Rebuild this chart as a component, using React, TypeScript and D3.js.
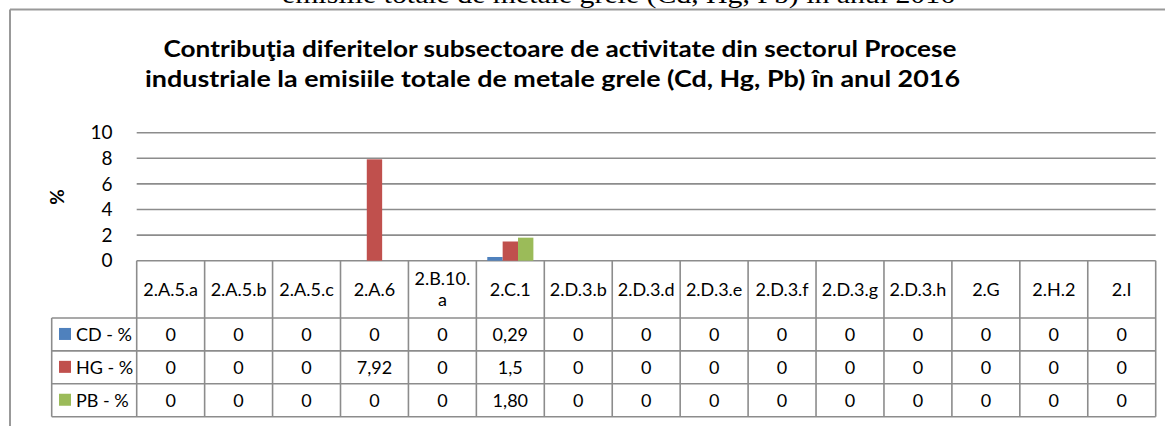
import React from "react";
import * as d3 from "d3";

// categorii (sub-sectoare)
const categories = [
  "2.A.5.a", "2.A.5.b", "2.A.5.c", "2.A.6", "2.B.10.a", "2.C.1", "2.D.3.b",
  "2.D.3.d", "2.D.3.e", "2.D.3.f", "2.D.3.g", "2.D.3.h", "2.G", "2.H.2", "2.I",
];
// etichetele din capul tabelului (cu rupere de rand ca in Excel)
const headerLines = [
  ["2.A.5.a"], ["2.A.5.b"], ["2.A.5.c"], ["2.A.6"], ["2.B.10.", "a"], ["2.C.1"],
  ["2.D.3.b"], ["2.D.3.d"], ["2.D.3.e"], ["2.D.3.f"], ["2.D.3.g"], ["2.D.3.h"],
  ["2.G"], ["2.H.2"], ["2.I"],
];

const seriesNames = ["CD - %", "HG - %", "PB - %"];
const seriesColors = ["#4F81BD", "#C0504D", "#9BBB59"];

const cdValues = [0, 0, 0, 0, 0, 0.29, 0, 0, 0, 0, 0, 0, 0, 0, 0];
const hgValues = [0, 0, 0, 7.92, 0, 1.5, 0, 0, 0, 0, 0, 0, 0, 0, 0];
const pbValues = [0, 0, 0, 0, 0, 1.8, 0, 0, 0, 0, 0, 0, 0, 0, 0];

const cdLabels = ["0", "0", "0", "0", "0", "0,29", "0", "0", "0", "0", "0", "0", "0", "0", "0"];
const hgLabels = ["0", "0", "0", "7,92", "0", "1,5", "0", "0", "0", "0", "0", "0", "0", "0", "0"];
const pbLabels = ["0", "0", "0", "0", "0", "1,80", "0", "0", "0", "0", "0", "0", "0", "0", "0"];

const yTicks = [0, 2, 4, 6, 8, 10];

const titleLines = [
  "Contribuţia diferitelor subsectoare de activitate din sectorul Procese",
  "industriale la emisiile totale de metale grele (Cd, Hg, Pb) în anul 2016",
];
const docLine = "emisiile totale de metale grele (Cd, Hg, Pb) în anul 2016";

const W = 1165;
const H = 426;
const FONT = "Lato, Carlito, 'Open Sans', sans-serif";
const GRID = "#8c8c8c";

export default function App() {
  const plot = { left: 136.7, right: 1155.7, top: 132.7, bottom: 260.7 };
  const legendLeft = 51.7;
  const headerBottom = 318;
  const rowH = 32.9;

  const x = d3.scaleBand<string>().domain(categories).range([plot.left, plot.right]).padding(0);
  const xSub = d3
    .scaleBand<string>()
    .domain(seriesNames)
    .range([0, x.bandwidth()])
    .paddingInner(0)
    .paddingOuter(0.71);
  const y = d3.scaleLinear().domain([0, 10]).range([plot.bottom, plot.top]);

  const seriesValues = [cdValues, hgValues, pbValues];
  const seriesLabels = [cdLabels, hgLabels, pbLabels];
  const tableBottom = headerBottom + rowH * seriesNames.length;

  return (
    <div style={{ position: "fixed", left: 0, top: 0, width: W, height: H, background: "#fff" }}>
      <svg width={W} height={H} style={{ display: "block" }}>
        {/* rand din documentul de deasupra, taiat */}
        <text
          x={282}
          y={2.5}
          fontFamily="'Liberation Serif', 'Times New Roman', serif"
          fontSize={26}
          textLength={673}
          lengthAdjust="spacingAndGlyphs"
          fill="#000"
        >
          {docLine}
        </text>

        {/* cadrul graficului */}
        <line x1={10} x2={W} y1={9.5} y2={9.5} stroke="#999" strokeWidth={2} />
        <line x1={10} x2={10} y1={9.5} y2={H} stroke="#999" strokeWidth={2} />

        {/* titlu */}
        <text x={163.5} y={57} fontFamily={FONT} fontWeight="bold" fontSize={23}
          textLength={793} lengthAdjust="spacingAndGlyphs">
          {titleLines[0]}
        </text>
        <text x={145} y={87} fontFamily={FONT} fontWeight="bold" fontSize={23}
          textLength={815} lengthAdjust="spacingAndGlyphs">
          {titleLines[1]}
        </text>

        {/* linii de grila */}
        {yTicks.map((t) => (
          <line key={`g${t}`} x1={plot.left} x2={plot.right} y1={y(t)} y2={y(t)}
            stroke={GRID} strokeWidth={1.6} />
        ))}
        {yTicks.map((t) => (
          <text key={`t${t}`} x={112.5} y={y(t)} dy="0.35em" textAnchor="end"
            fontFamily={FONT} fontSize={19} fill="#000">
            {t}
          </text>
        ))}
        <text transform={`translate(57,197) rotate(-90)`} textAnchor="middle" dy="0.35em"
          fontFamily={FONT} fontWeight="bold" fontSize={19}>
          %
        </text>

        {/* bare */}
        {seriesNames.map((s, si) =>
          categories.map((c, ci) => {
            const v = seriesValues[si][ci];
            if (!v) return null;
            return (
              <rect key={`${s}-${c}`} x={x(c)! + xSub(s)!} y={y(v)} width={xSub.bandwidth()}
                height={y(0) - y(v)} fill={seriesColors[si]} />
            );
          })
        )}

        {/* tabel de date */}
        {/* linii verticale */}
        {[...categories, "end"].map((c, i) => {
          const xx = i < categories.length ? x(c)! : plot.right;
          return (
            <line key={`v${i}`} x1={xx} x2={xx} y1={plot.bottom} y2={tableBottom}
              stroke={GRID} strokeWidth={1.6} />
          );
        })}
        <line x1={legendLeft} x2={legendLeft} y1={headerBottom} y2={tableBottom}
          stroke={GRID} strokeWidth={1.6} />
        {seriesNames.map((s, i) => (
          <line key={`h${s}`} x1={legendLeft} x2={plot.right}
            y1={headerBottom + rowH * i} y2={headerBottom + rowH * i}
            stroke={GRID} strokeWidth={1.6} />
        ))}
        <line x1={legendLeft} x2={plot.right} y1={tableBottom} y2={tableBottom}
          stroke={GRID} strokeWidth={1.6} />

        {/* capul tabelului */}
        {categories.map((c, i) => {
          const lines = headerLines[i];
          const cy = (plot.bottom + headerBottom) / 2;
          const lh = 21;
          return (
            <g key={`hd${c}`}>
              {lines.map((l, li) => (
                <text key={li} x={x(c)! + x.bandwidth() / 2}
                  y={cy + (li - (lines.length - 1) / 2) * lh} dy="0.35em"
                  textAnchor="middle" fontFamily={FONT} fontSize={18}>
                  {l}
                </text>
              ))}
            </g>
          );
        })}

        {/* randurile seriilor */}
        {seriesNames.map((s, si) => {
          const cy = headerBottom + rowH * si + rowH / 2;
          return (
            <g key={`row${s}`}>
              <rect x={59} y={cy - 6.5} width={12} height={12} fill={seriesColors[si]} />
              <text x={76} y={cy} dy="0.35em" fontFamily={FONT} fontSize={18}>
                {s}
              </text>
              {categories.map((c, ci) => (
                <text key={c} x={x(c)! + x.bandwidth() / 2} y={cy} dy="0.35em"
                  textAnchor="middle" fontFamily={FONT} fontSize={18}>
                  {seriesLabels[si][ci]}
                </text>
              ))}
            </g>
          );
        })}
      </svg>
    </div>
  );
}
